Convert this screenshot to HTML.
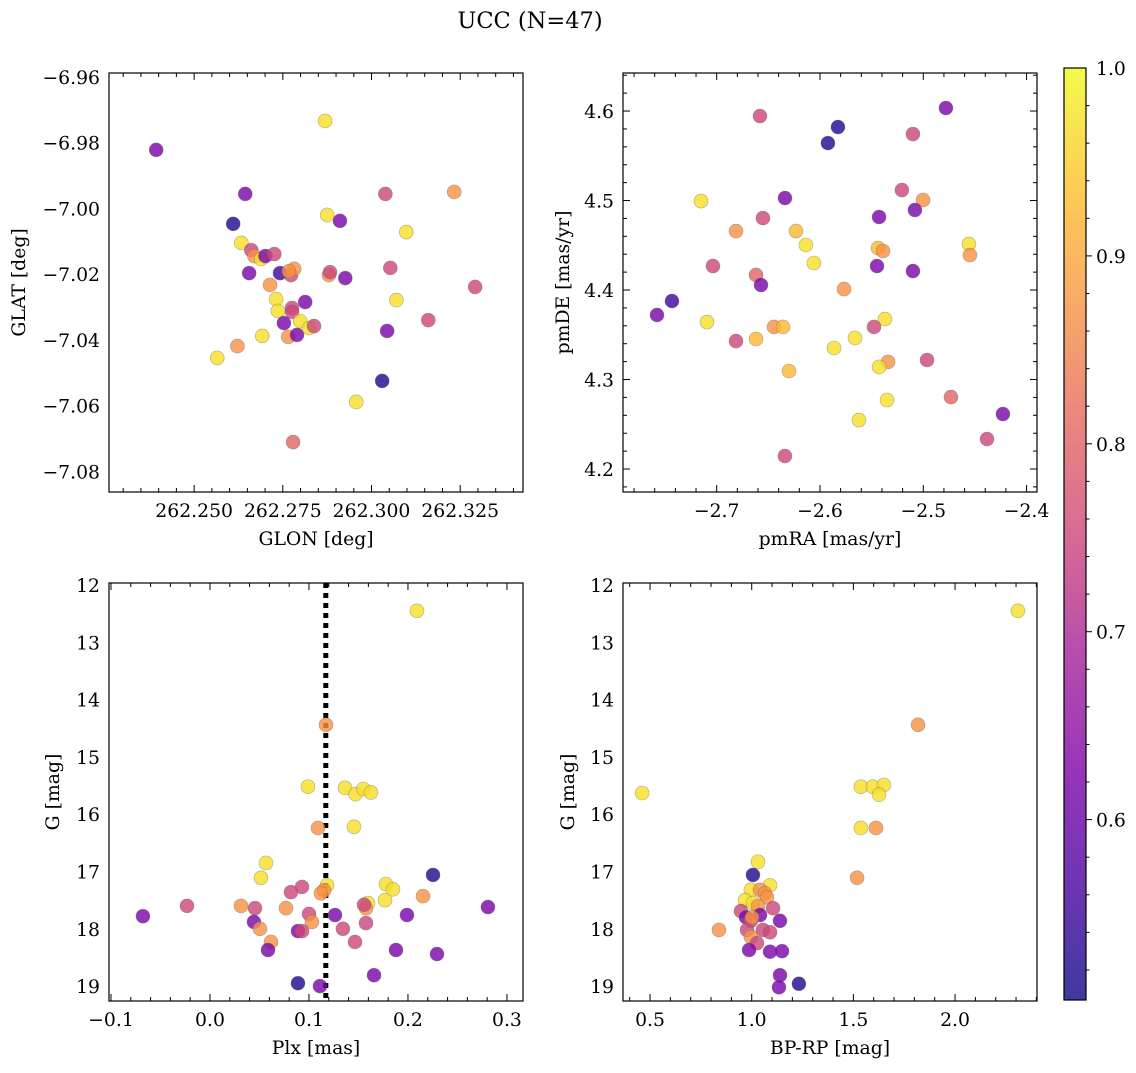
<!DOCTYPE html>
<html><head><meta charset="utf-8"><style>
body{margin:0;background:#fff;}
svg text{font-family:"DejaVu Serif","Liberation Serif",serif;fill:#000;}
</style></head><body>
<svg id="fig" width="1136" height="1068" xmlns="http://www.w3.org/2000/svg">
<defs><linearGradient id="plasma" x1="0" y1="1" x2="0" y2="0">
<stop offset="0" stop-color="#0d0887"/><stop offset="0.13" stop-color="#4c02a1"/><stop offset="0.25" stop-color="#7e03a8"/><stop offset="0.38" stop-color="#a82296"/><stop offset="0.5" stop-color="#cc4778"/><stop offset="0.63" stop-color="#e56b5d"/><stop offset="0.75" stop-color="#f89540"/><stop offset="0.88" stop-color="#fdc328"/><stop offset="1" stop-color="#f0f921"/></linearGradient></defs>
<text x="530" y="28" font-size="22.5" text-anchor="middle">UCC (N=47)</text>
</svg>
<script>
// ---- data (x, y, membership probability) ----
const p1X=[262.2393,262.2644,262.2869,262.3233,262.3039,262.2610,262.2633,262.2661,262.2670,262.2689,262.2701,262.2726,262.2655,262.2742,262.2773,262.2782,262.2767,262.2875,262.2911,262.2880,262.2883,262.2926,262.3053,262.3098,262.3292,262.2714,262.2731,262.2736,262.2776,262.2776,262.2813,262.2753,262.2692,262.2622,262.2565,262.2765,262.2790,262.2799,262.2824,262.2838,262.3070,262.3160,262.3044,262.3030,262.2957,262.2779];
const p1Y=[-6.9822,-6.9956,-6.9734,-6.995,-6.9956,-7.0047,-7.0105,-7.0127,-7.0145,-7.0154,-7.0145,-7.0139,-7.0197,-7.0197,-7.0203,-7.0184,-7.0191,-7.002,-7.0038,-7.0203,-7.0194,-7.0212,-7.0181,-7.0072,-7.0239,-7.0233,-7.0276,-7.0312,-7.0303,-7.0315,-7.0285,-7.0349,-7.0388,-7.0419,-7.0455,-7.0391,-7.0385,-7.0343,-7.0364,-7.0358,-7.0279,-7.034,-7.0373,-7.0525,-7.0589,-7.0711];
const p1P=[.62,.62,.97,.87,.75,.52,.97,.75,.87,.97,.62,.75,.62,.55,.75,.87,.87,.97,.62,.87,.75,.62,.75,.97,.75,.87,.97,.97,.75,.75,.62,.62,.97,.87,.97,.87,.62,.97,.97,.75,.97,.75,.62,.52,.97,.8];
const p2X=[-2.4781,-2.6581,-2.5826,-2.5923,-2.5100,-2.7152,-2.6339,-2.5207,-2.5002,-2.5081,-2.5428,-2.6552,-2.6813,-2.6232,-2.6136,-2.4558,-2.4548,-2.5438,-2.5390,-2.6059,-2.7036,-2.5448,-2.5100,-2.6619,-2.6571,-2.5767,-2.7433,-2.7578,-2.7094,-2.5371,-2.5477,-2.6445,-2.6358,-2.6813,-2.6619,-2.5661,-2.5864,-2.4964,-2.5341,-2.5428,-2.6300,-2.4732,-2.5351,-2.4229,-2.5623,-2.4383,-2.6339];
const p2Y=[4.6034,4.5944,4.5821,4.5642,4.5743,4.4994,4.5028,4.5117,4.5006,4.4894,4.4816,4.4804,4.4659,4.4659,4.4503,4.4514,4.4391,4.4469,4.4436,4.4302,4.4268,4.4268,4.4212,4.4168,4.4056,4.4011,4.3877,4.3721,4.3642,4.3676,4.3587,4.3587,4.3587,4.343,4.3453,4.3464,4.3352,4.3218,4.3196,4.314,4.3095,4.2804,4.2771,4.2614,4.2547,4.2335,4.2145];
const p2P=[.62,.75,.52,.52,.75,.97,.62,.75,.87,.62,.62,.75,.87,.92,.97,.97,.87,.92,.87,.97,.75,.62,.62,.8,.62,.87,.55,.62,.97,.97,.75,.87,.92,.75,.92,.97,.97,.75,.87,.97,.92,.8,.97,.62,.97,.75,.75];
const p3X=[0.2091,0.1172,0.099,0.1091,0.1364,0.147,0.155,0.1626,0.1455,0.0566,0.0515,0.2253,0.1182,0.1152,0.1121,0.0818,0.093,0.1778,0.1848,0.1768,0.1596,0.1576,0.1556,0.2152,0.0313,0.0455,0.0768,-0.0232,-0.0677,0.2808,0.1,0.1263,0.103,0.1576,0.199,0.0444,0.1343,0.0505,0.0889,0.093,0.0616,0.1465,0.0586,0.1879,0.2293,0.1657,0.0889,0.1111];
const p3Y=[12.45,14.44,15.52,16.24,15.54,15.65,15.56,15.62,16.22,16.85,17.11,17.06,17.24,17.33,17.38,17.36,17.27,17.22,17.31,17.5,17.55,17.64,17.58,17.43,17.6,17.64,17.64,17.6,17.78,17.62,17.74,17.76,17.88,17.9,17.76,17.88,18.0,18.0,18.04,18.04,18.23,18.23,18.37,18.37,18.44,18.81,18.95,19.0];
const p3P=[.97,.87,.97,.87,.97,.97,.97,.97,.97,.97,.97,.52,.97,.87,.87,.75,.75,.97,.97,.97,.97,.87,.75,.87,.87,.75,.87,.75,.62,.62,.75,.62,.87,.75,.62,.62,.75,.87,.62,.75,.87,.75,.62,.62,.62,.62,.52,.62];
const p4X=[2.309,1.818,0.461,1.537,1.596,1.65,1.626,1.537,1.611,1.518,1.031,1.006,1.09,0.996,1.041,1.065,1.075,0.967,1.006,1.031,0.947,1.105,0.972,1.041,1.139,0.996,1.001,0.977,1.055,0.839,0.996,1.026,1.09,0.987,1.09,1.149,1.139,1.134,1.232];
const p4Y=[12.45,14.44,15.63,15.52,15.52,15.49,15.66,16.24,16.24,17.11,16.83,17.06,17.24,17.32,17.32,17.38,17.45,17.5,17.55,17.6,17.69,17.64,17.8,17.76,17.86,17.86,17.8,18.02,18.02,18.02,18.14,18.25,18.06,18.37,18.4,18.39,18.81,19.02,18.96];
const p4P=[.97,.87,.97,.97,.97,.97,.97,.97,.87,.87,.97,.52,.97,.97,.87,.87,.87,.97,.97,.87,.75,.75,.62,.62,.62,.75,.87,.75,.75,.87,.87,.75,.75,.62,.62,.62,.62,.62,.52];
const p1XTicks=[262.25,262.275,262.3,262.325], p1XLabels=["262.250","262.275","262.300","262.325"];
const p1YTicks=[-6.96,-6.98,-7.00,-7.02,-7.04,-7.06,-7.08], p1YLabels=["−6.96","−6.98","−7.00","−7.02","−7.04","−7.06","−7.08"];
const p2XTicks=[-2.7,-2.6,-2.5,-2.4], p2XLabels=["−2.7","−2.6","−2.5","−2.4"];
const p2YTicks=[4.2,4.3,4.4,4.5,4.6], p2YLabels=["4.2","4.3","4.4","4.5","4.6"];
const p3XTicks=[-0.1,0,0.1,0.2,0.3], p3XLabels=["−0.1","0.0","0.1","0.2","0.3"];
const gTicks=[12,13,14,15,16,17,18,19], gLabels=["12","13","14","15","16","17","18","19"];
const p4XTicks=[0.5,1.0,1.5,2.0], p4XLabels=["0.5","1.0","1.5","2.0"];
const cbTicks=[0.6,0.7,0.8,0.9,1.0], cbLabels=["0.6","0.7","0.8","0.9","1.0"];
const plxLine=0.117;
const cMin=0.504,cMax=1.0;
const FS=18.8;

const NS="http://www.w3.org/2000/svg", svg=document.getElementById('fig');
function el(t,a,p){const e=document.createElementNS(NS,t);for(const k in a)e.setAttribute(k,a[k]);(p||svg).appendChild(e);return e;}
const stops=[[13,8,135],[76,2,161],[126,3,168],[168,34,150],[204,71,120],[229,107,93],[248,149,64],[253,195,40],[240,249,33]];
function cmap(p){let t=Math.max(0,Math.min(1,(p-cMin)/(cMax-cMin)))*8;const i=Math.min(7,Math.floor(t)),f=t-i;const a=stops[i],b=stops[i+1];return `rgb(${a.map((v,k)=>Math.round(v+(b[k]-v)*f)).join(',')})`;}

function panel(o){
  const g=el('g',{});
  
  
  const sx=v=>o.x0+(v-o.xr[0])/(o.xr[1]-o.xr[0])*(o.x1-o.x0);
  const sy=v=>o.y1-(v-o.yr[0])/(o.yr[1]-o.yr[0])*(o.y1-o.y0);
  const step=(a)=>a[1]-a[0];
  const drawTicks=(ticks,nd,axis)=>{
    const st=step(ticks);const all=[];
    for(let t=ticks[0]-st;t<=ticks[ticks.length-1]+st+1e-9;t+=st/nd)all.push(t);
    all.forEach(t=>{
      const major=ticks.some(m=>Math.abs(m-t)<st/nd/10), L=major?7:4;
      if(axis==='x'){const x=sx(t);if(x<o.x0-0.5||x>o.x1+0.5)return;
        el('line',{x1:x,x2:x,y1:o.y1,y2:o.y1-L,stroke:'#000','stroke-width':1},g);
        el('line',{x1:x,x2:x,y1:o.y0,y2:o.y0+L,stroke:'#000','stroke-width':1},g);}
      else{const y=sy(t);if(y<o.y0-0.5||y>o.y1+0.5)return;
        el('line',{x1:o.x0,x2:o.x0+L,y1:y,y2:y,stroke:'#000','stroke-width':1},g);
        el('line',{x1:o.x1,x2:o.x1-L,y1:y,y2:y,stroke:'#000','stroke-width':1},g);}
    });
  };
  if(o.vline!==undefined){const l=el('line',{x1:sx(o.vline),x2:sx(o.vline),y1:o.y0,y2:o.y1,stroke:'#000','stroke-width':5,'stroke-dasharray':'5,5'},g);
    
    }
  o.xs.forEach((v,i)=>{
    const c=el('circle',{cx:sx(v),cy:sy(o.ys[i]),r:7,fill:cmap(o.ps[i]),'fill-opacity':0.8,stroke:'#666','stroke-opacity':0.5,'stroke-width':0.6},g);
    
    
  });
  drawTicks(o.xt,o.xnd,'x');drawTicks(o.yt,o.ynd,'y');
  el('rect',{x:o.x0,y:o.y0,width:o.x1-o.x0,height:o.y1-o.y0,fill:'none',stroke:'#000','stroke-width':1.2},g);
  o.xt.forEach((t,i)=>{const tx=el('text',{x:sx(t),y:o.y1+25,'font-size':FS,'text-anchor':'middle'},g);tx.textContent=o.xl[i];
    
    });
  o.yt.forEach((t,i)=>{const tx=el('text',{x:o.x0-9,y:sy(t)+7,'font-size':FS,'text-anchor':'end'},g);tx.textContent=o.yl[i];
    
    });
  const xt=el('text',{x:(o.x0+o.x1)/2,y:o.y1+53,'font-size':FS,'text-anchor':'middle'},g);xt.textContent=o.xlab;
  
  
  const yt=el('text',{x:0,y:0,'font-size':FS,'text-anchor':'middle',transform:`translate(${o.ylx},${(o.y0+o.y1)/2}) rotate(-90)`},g);yt.textContent=o.ylab;
  
  
}
panel({name:'glon-glat-panel',x0:109,x1:523,y0:73,y1:492,xr:[262.2260,262.3427],yr:[-7.0863,-6.9588],xs:p1X,ys:p1Y,ps:p1P,xt:p1XTicks,xl:p1XLabels,yt:p1YTicks,yl:p1YLabels,xnd:5,ynd:4,xlab:'GLON [deg]',ylab:'GLAT [deg]',ylx:25});
panel({name:'proper-motion-panel',x0:623,x1:1037,y0:73,y1:492,xr:[-2.7907,-2.3899],yr:[4.1743,4.6425],xs:p2X,ys:p2Y,ps:p2P,xt:p2XTicks,xl:p2XLabels,yt:p2YTicks,yl:p2YLabels,xnd:5,ynd:5,xlab:'pmRA [mas/yr]',ylab:'pmDE [mas/yr]',ylx:569});
panel({name:'plx-g-panel',x0:109,x1:523,y0:583,y1:1001,xr:[-0.102,0.3162],yr:[-19.26,-11.965],xs:p3X,ys:p3Y.map(v=>-v),ps:p3P,xt:p3XTicks,xl:p3XLabels,yt:gTicks.map(v=>-v),yl:gLabels,xnd:5,ynd:5,xlab:'Plx [mas]',ylab:'G [mag]',ylx:59,vline:plxLine});
panel({name:'cmd-panel',x0:623,x1:1037,y0:583,y1:1001,xr:[0.367,2.403],yr:[-19.26,-11.965],xs:p4X,ys:p4Y.map(v=>-v),ps:p4P,xt:p4XTicks,xl:p4XLabels,yt:gTicks.map(v=>-v),yl:gLabels,xnd:5,ynd:5,xlab:'BP-RP [mag]',ylab:'G [mag]',ylx:574});
(function(){
  const g=el('g',{});
  
  
  const x0=1064,x1=1086,y0=68,y1=1000;
  const sy=v=>y1-(v-cMin)/(cMax-cMin)*(y1-y0);
  el('rect',{x:x0,y:y0,width:x1-x0,height:y1-y0,fill:'url(#plasma)','fill-opacity':0.8},g);
  for(let t=0.5;t<=1.0001;t+=0.02){const y=sy(t);if(y>y1||y<y0)continue;
    const major=Math.abs(t*10-Math.round(t*10))<1e-6;
    el('line',{x1:x1,x2:x1+(major?6:3.5),y1:y,y2:y,stroke:'#000','stroke-width':1},g);}
  cbTicks.forEach((t,i)=>{const tx=el('text',{x:x1+10,y:sy(t)+7,'font-size':FS},g);tx.textContent=cbLabels[i];
    
    });
  el('rect',{x:x0,y:y0,width:x1-x0,height:y1-y0,fill:'none',stroke:'#000','stroke-width':1.2},g);
})();
</script>
</body></html>
